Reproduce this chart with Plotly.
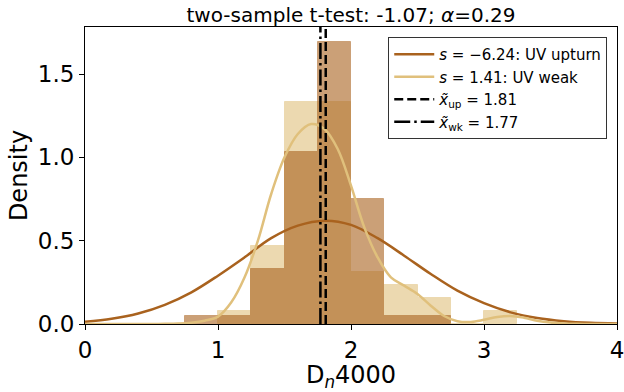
import plotly.graph_objects as go

# ---- data ----
bin_width = 0.25
up_bin_left = [0.75, 1.0, 1.25, 1.5, 1.75, 2.0, 2.25, 2.5]
up_density = [0.047, 0.047, 0.329, 1.035, 1.694, 0.753, 0.047, 0.047]

wk_bin_left = [1.0, 1.25, 1.5, 1.75, 2.0, 2.25, 2.5, 2.75, 3.0]
wk_density = [0.078, 0.468, 1.334, 1.334, 0.314, 0.235, 0.157, 0.0, 0.078]

up_kde_x = [0.0, 0.2, 0.4, 0.6, 0.8, 1.0, 1.2, 1.4, 1.6, 1.8, 2.0,
            2.2, 2.4, 2.6, 2.8, 3.0, 3.2, 3.4, 3.6, 3.8, 4.0]
up_kde_y = [0.013, 0.031, 0.063, 0.115, 0.19, 0.29, 0.40, 0.515, 0.59, 0.62, 0.595,
            0.515, 0.41, 0.30, 0.20, 0.125, 0.07, 0.036, 0.017, 0.007, 0.003]

wk_kde_x = [0.0, 0.1, 0.2, 0.3, 0.4, 0.5, 0.6, 0.7, 0.8, 0.9, 1.0,
            1.1, 1.2, 1.3, 1.4, 1.5, 1.6, 1.7, 1.8, 1.9, 2.0,
            2.1, 2.2, 2.3, 2.4, 2.5, 2.6, 2.7, 2.8, 2.9, 3.0,
            3.1, 3.2, 3.3, 3.4, 3.5, 3.6, 3.7, 3.8, 3.9, 4.0]
wk_kde_y = [0.0, 0.0, 0.0, 0.0, 0.0, 0.0, 0.001, 0.003, 0.008, 0.02, 0.044,
            0.13, 0.28, 0.50, 0.78, 1.0, 1.14, 1.20, 1.17, 1.05, 0.83,
            0.58, 0.40, 0.28, 0.23, 0.18, 0.11, 0.048, 0.017, 0.012, 0.025,
            0.042, 0.048, 0.038, 0.02, 0.009, 0.003, 0.001, 0.0, 0.0, 0.0]

median_up = 1.81
median_wk = 1.77
skew_up = -6.24
skew_wk = 1.41
t_stat = -1.07
alpha_val = 0.29

x_ticks = [0, 1, 2, 3, 4]
y_ticks = [0.0, 0.5, 1.0, 1.5]
x_range = [0, 4]
y_range = [0, 1.782]

c_up = "#A9621E"
c_wk = "#E0C07C"
font = "DejaVu Sans"

fig = go.Figure()

fig.add_trace(go.Bar(x=wk_bin_left, y=wk_density, width=bin_width, offset=0,
                     marker=dict(color=c_wk, line=dict(color=c_wk, width=1)),
                     opacity=0.6, showlegend=False, hoverinfo="skip"))
fig.add_trace(go.Bar(x=up_bin_left, y=up_density, width=bin_width, offset=0,
                     marker=dict(color=c_up, line=dict(color=c_up, width=1)),
                     opacity=0.6, showlegend=False, hoverinfo="skip"))

fig.add_trace(go.Scatter(x=up_kde_x, y=up_kde_y, mode="lines",
                         line=dict(color=c_up, width=2.5, shape="spline"),
                         name=f"<i>s</i> = \u2212{abs(skew_up):.2f}: UV upturn"))
fig.add_trace(go.Scatter(x=wk_kde_x, y=wk_kde_y, mode="lines",
                         line=dict(color=c_wk, width=2.5, shape="spline"),
                         name=f"<i>s</i> = {skew_wk:.2f}: UV weak"))
fig.add_trace(go.Scatter(x=[median_up, median_up], y=y_range, mode="lines",
                         line=dict(color="black", width=2.5, dash="9px,4px"),
                         name=f"<i>x\u0303</i><sub>up</sub> = {median_up:.2f}"))
fig.add_trace(go.Scatter(x=[median_wk, median_wk], y=y_range, mode="lines",
                         line=dict(color="black", width=2.5, dash="16px,4px,2.5px,4px"),
                         name=f"<i>x\u0303</i><sub>wk</sub> = {median_wk:.2f}"))

fig.update_layout(
    width=624, height=392,
    margin=dict(l=85, r=7, t=27, b=68, autoexpand=False),
    barmode="overlay", bargap=0,
    plot_bgcolor="white", paper_bgcolor="white",
    font=dict(family=font, color="black"),
    title=dict(text=f"two-sample t-test: {t_stat:.2f}; <i>\u03b1</i>={alpha_val:.2f}",
               x=0.5, xref="paper", xanchor="center",
               y=1, yref="paper", yanchor="bottom", pad=dict(b=5),
               font=dict(size=20, family=font, color="black"), automargin=False),
    legend=dict(x=0.57, y=0.966, xanchor="left", yanchor="top",
                bgcolor="white", bordercolor="#333333", borderwidth=1,
                font=dict(size=15, family=font, color="black"),
                tracegroupgap=0, itemwidth=40),
    xaxis=dict(range=x_range, tickvals=x_ticks, ticktext=[str(v) for v in x_ticks],
               showgrid=False, zeroline=False, showline=True, linecolor="black",
               linewidth=1, mirror=True, ticks="outside", ticklen=5, tickcolor="black",
               automargin=False, ticklabeloverflow="allow",
               tickfont=dict(size=23, family=font),
               title=dict(text="D<sub><i>n</i></sub>4000", font=dict(size=24, family=font), standoff=1)),
    yaxis=dict(range=y_range, tickvals=y_ticks, ticktext=[f"{v:.1f}" for v in y_ticks],
               showgrid=False, zeroline=False, showline=True, linecolor="black",
               linewidth=1, mirror=True, ticks="outside", ticklen=5, tickcolor="black",
               automargin=False,
               tickfont=dict(size=23, family=font),
               title=dict(text="Density", font=dict(size=24, family=font), standoff=3)),
)

fig.write_html("out.html", config={"displayModeBar": False},
               post_script="document.body.style.margin='0px';document.body.style.overflow='hidden';")
